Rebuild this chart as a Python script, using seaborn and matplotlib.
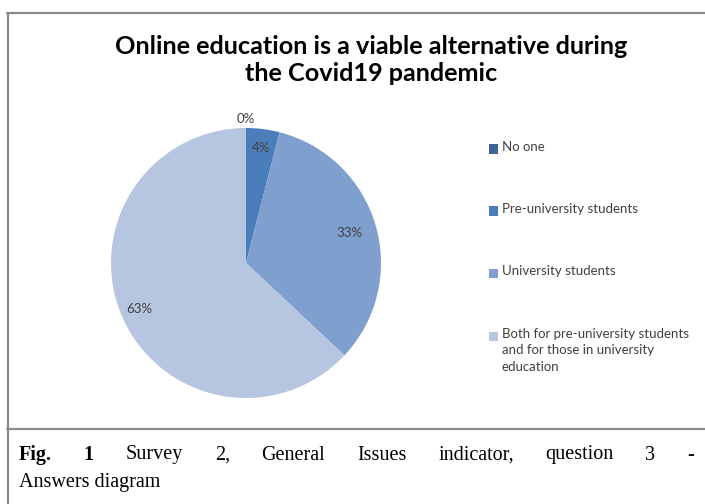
import numpy as np
import matplotlib
matplotlib.use("Agg")
import matplotlib.pyplot as plt
from matplotlib.patches import Rectangle
from matplotlib.lines import Line2D
import seaborn as sns

# data
answers = ["No one", "Pre-university students", "University students",
           "Both for pre-university students\nand for those in university\neducation"]
shares = [0, 4, 33, 63]
pct_labels = ["0%", "4%", "33%", "63%"]
colors = ["#3c6496", "#4a7ebb", "#7f9fcf", "#b7c6e0"]

title = "Online education is a viable alternative during\nthe Covid19 pandemic"
caption_bold = ["Fig.", "1"]
caption_line1 = ["Survey", "2,", "General", "Issues", "indicator,", "question", "3", "-"]
caption_line2 = "Answers diagram"

sns.set_theme(style="white")
plt.rcParams['font.family'] = ['Lato', 'DejaVu Sans']

W, H = 705, 504
fig = plt.figure(figsize=(W / 100, H / 100), dpi=100)
fig.patch.set_facecolor("white")

def fx(px):
    return px / W

def fy(py):
    return 1 - py / H

# pie axes: centre (246, 263), radius 135 px
cx, cy, r = 246, 263, 135
ax = fig.add_axes([fx(cx - r), fy(cy + r), 2 * r / W, 2 * r / H])
wedges, _ = ax.pie(shares, colors=colors, startangle=90, counterclock=False,
                   radius=1, wedgeprops=dict(linewidth=0))
ax.set_xlim(-1, 1)
ax.set_ylim(-1, 1)
ax.set_aspect("equal")
ax.axis("off")

for w, lab, val in zip(wedges, pct_labels, shares):
    mid = np.deg2rad((w.theta1 + w.theta2) / 2)
    dist = 1.07 if val == 0 else (0.8 if val < 50 and val > 10 else 0.86)
    ax.text(dist * np.cos(mid), dist * np.sin(mid), lab, ha="center", va="center",
            fontsize=9.5, color="#404040", clip_on=False)

# title
fig.text(fx(371), fy(60), title, ha="center", va="center", fontsize=18.2,
         fontweight="bold", color="black", linespacing=1.22)

# legend
leg_y = [149, 211, 273, 336]
for lab, c, y in zip(answers, colors, leg_y):
    fig.patches.append(Rectangle((fx(489), fy(y + 4.5)), 9 / W, 9 / H,
                                 transform=fig.transFigure, facecolor=c,
                                 edgecolor="none"))
    fig.text(fx(502), fy(y - 8), lab, ha="left", va="top", fontsize=9.5,
             color="#404040", linespacing=1.45)

# frame
fc = "#8a8a8a"
for xs, ys in [((7, W), (13, 13)), ((7.5, 7.5), (13, H)), ((7, W), (429, 429))]:
    fig.lines.append(Line2D([fx(x) for x in xs], [fy(y) for y in ys],
                            transform=fig.transFigure, color=fc, linewidth=1.6))

# caption, justified first line
fig.canvas.draw()
rend = fig.canvas.get_renderer()
serif = ['Liberation Serif', 'DejaVu Serif']
cap_size = 14.5
words = [(wd, "bold") for wd in caption_bold] + [(wd, "normal") for wd in caption_line1]
arts = []
for wd, wt in words:
    t = fig.text(0, fy(455), wd, ha="left", va="center", fontsize=cap_size,
                 fontweight=wt, family=serif, color="black")
    arts.append(t)
widths = [t.get_window_extent(rend).width for t in arts]
x0, x1 = 19, 694
gap = (x1 - x0 - sum(widths)) / (len(arts) - 1)
x = x0
for t, wdt in zip(arts, widths):
    t.set_x(fx(x))
    x += wdt + gap
fig.text(fx(x0), fy(483), caption_line2, ha="left", va="center", fontsize=cap_size,
         family=serif, color="black")

fig.savefig("out.png", dpi=100)
